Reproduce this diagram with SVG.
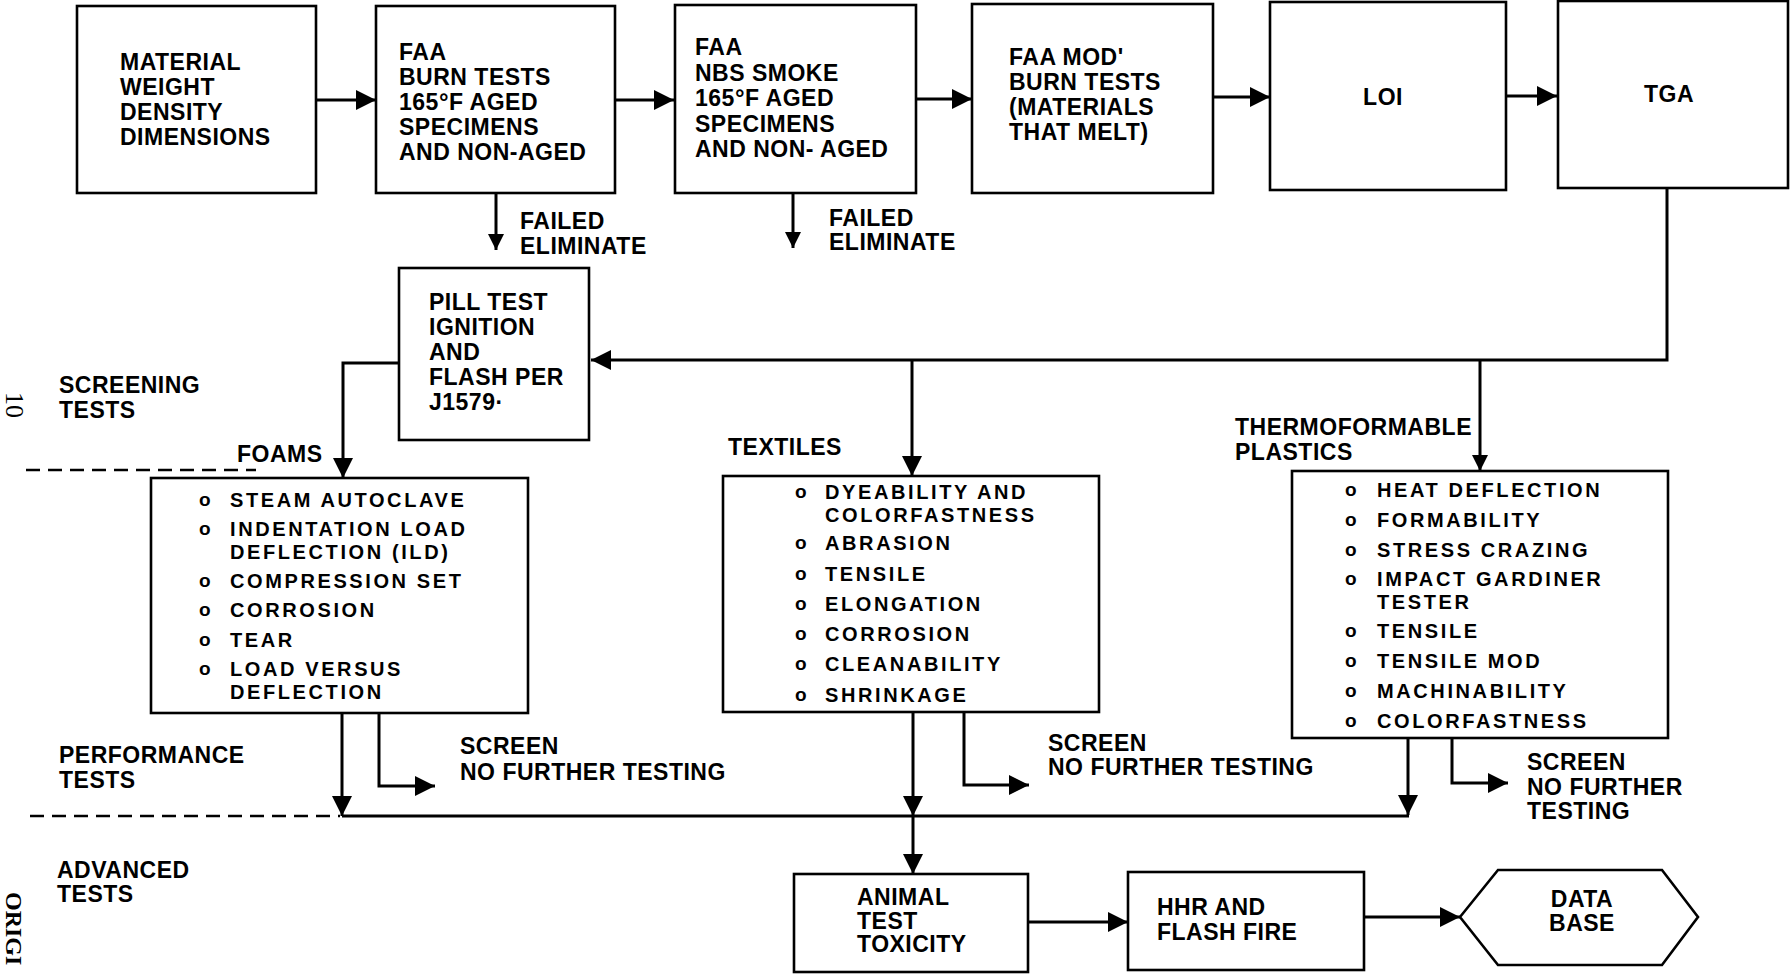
<svg xmlns="http://www.w3.org/2000/svg" width="1790" height="976" viewBox="0 0 1790 976">
<style>
.bx{fill:#fff;stroke:#000;stroke-width:2.6}
.ln{fill:none;stroke:#000;stroke-width:3}
.dash{fill:none;stroke:#000;stroke-width:2.5;stroke-dasharray:14 8}
.t{font-family:"Liberation Sans",Arial,sans-serif;font-weight:bold;font-size:23px;letter-spacing:0.5px;fill:#000}
.b{font-family:"Liberation Sans",Arial,sans-serif;font-weight:bold;font-size:20px;letter-spacing:2.6px;fill:#000}
.o{font-family:"Liberation Sans",Arial,sans-serif;font-weight:bold;font-size:19px;fill:#000}
.deg{font-size:24px}
.pg{font-family:"Liberation Serif","Times New Roman",serif;fill:#000}
</style>
<defs>
<marker id="ah" viewBox="0 0 10 10" refX="10" refY="5" markerUnits="userSpaceOnUse" markerWidth="22" markerHeight="20" orient="auto"><path d="M0,0 L10,5 L0,10 z" fill="#000"/></marker>
<marker id="as" viewBox="0 0 10 10" refX="10" refY="5" markerUnits="userSpaceOnUse" markerWidth="18" markerHeight="16" orient="auto"><path d="M0,0 L10,5 L0,10 z" fill="#000"/></marker>
</defs>
<rect width="1790" height="976" fill="#fff"/>

<g id="connectors">
<path class="ln" d="M316,100 H376" marker-end="url(#ah)"/>
<path class="ln" d="M615,100 H674" marker-end="url(#ah)"/>
<path class="ln" d="M916,99 H972" marker-end="url(#ah)"/>
<path class="ln" d="M1213,97 H1270" marker-end="url(#ah)"/>
<path class="ln" d="M1506,96 H1557" marker-end="url(#ah)"/>
<path class="ln" d="M496,193 V250" marker-end="url(#as)"/>
<path class="ln" d="M793,193 V248" marker-end="url(#as)"/>
<path class="ln" d="M1667,188 V360 H591" marker-end="url(#ah)"/>
<path class="ln" d="M912,360 V476" marker-end="url(#ah)"/>
<path class="ln" d="M1480,360 V471" marker-end="url(#as)"/>
<path class="ln" d="M399,363 H343 V478" marker-end="url(#ah)"/>
<path class="ln" d="M342,713 V816" marker-end="url(#ah)"/>
<path class="ln" d="M379,713 V786 H435" marker-end="url(#ah)"/>
<path class="ln" d="M913,712 V816" marker-end="url(#ah)"/>
<path class="ln" d="M964,712 V785 H1029" marker-end="url(#ah)"/>
<path class="ln" d="M1408,738 V815" marker-end="url(#ah)"/>
<path class="ln" d="M1452,738 V783 H1508" marker-end="url(#ah)"/>
<path class="ln" d="M342,816 H1409"/>
<path class="ln" d="M913,816 V874" marker-end="url(#ah)"/>
<path class="ln" d="M1028,922 H1128" marker-end="url(#ah)"/>
<path class="ln" d="M1364,917 H1460" marker-end="url(#ah)"/>
<path class="dash" d="M26,470 H256"/>
<path class="dash" d="M30,816 H340"/>
</g>

<g id="material">
<rect class="bx" x="77" y="6" width="239" height="187"/>
<text class="t" x="120" y="70">MATERIAL<tspan x="120" dy="25">WEIGHT</tspan><tspan x="120" dy="25">DENSITY</tspan><tspan x="120" dy="25">DIMENSIONS</tspan></text>
</g>

<g id="faa-burn">
<rect class="bx" x="376" y="6" width="239" height="187"/>
<text class="t" x="399" y="60">FAA<tspan x="399" dy="25">BURN TESTS</tspan><tspan x="399" dy="25">165<tspan class="deg">°</tspan>F AGED</tspan><tspan x="399" dy="25">SPECIMENS</tspan><tspan x="399" dy="25">AND NON-AGED</tspan></text>
</g>

<g id="faa-smoke">
<rect class="bx" x="675" y="5" width="241" height="188"/>
<text class="t" x="695" y="55">FAA<tspan x="695" dy="26">NBS SMOKE</tspan><tspan x="695" dy="25">165<tspan class="deg">°</tspan>F AGED</tspan><tspan x="695" dy="26">SPECIMENS</tspan><tspan x="695" dy="25">AND NON- AGED</tspan></text>
</g>

<g id="faa-mod">
<rect class="bx" x="972" y="4" width="241" height="189"/>
<text class="t" x="1009" y="65">FAA MOD'<tspan x="1009" dy="25">BURN TESTS</tspan><tspan x="1009" dy="25">(MATERIALS</tspan><tspan x="1009" dy="25">THAT MELT)</tspan></text>
</g>

<g id="loi">
<rect class="bx" x="1270" y="2" width="236" height="188"/>
<text class="t" x="1383" y="105" text-anchor="middle">LOI</text>
</g>

<g id="tga">
<rect class="bx" x="1558" y="1" width="230" height="187"/>
<text class="t" x="1669" y="102" text-anchor="middle">TGA</text>
</g>

<g id="failed-1">
<text class="t" x="520" y="229">FAILED<tspan x="520" dy="25">ELIMINATE</tspan></text>
</g>
<g id="failed-2">
<text class="t" x="829" y="226">FAILED<tspan x="829" dy="24">ELIMINATE</tspan></text>
</g>

<g id="pill">
<rect class="bx" x="399" y="268" width="190" height="172"/>
<text class="t" x="429" y="310">PILL TEST<tspan x="429" dy="25">IGNITION</tspan><tspan x="429" dy="25">AND</tspan><tspan x="429" dy="25">FLASH PER</tspan><tspan x="429" dy="25">J1579·</tspan></text>
</g>

<g id="stage-labels">
<text class="t" x="59" y="393">SCREENING<tspan x="59" dy="25">TESTS</tspan></text>
<text class="t" x="59" y="763">PERFORMANCE<tspan x="59" dy="25">TESTS</tspan></text>
<text class="t" x="57" y="878">ADVANCED<tspan x="57" dy="24">TESTS</tspan></text>
<text class="t" x="237" y="462">FOAMS</text>
<text class="t" x="728" y="455">TEXTILES</text>
<text class="t" x="1235" y="435">THERMOFORMABLE<tspan x="1235" dy="25">PLASTICS</tspan></text>
</g>

<g id="foams">
<rect class="bx" x="151" y="478" width="377" height="235"/>
<text class="o" x="199" y="506">o</text><text class="b" x="230" y="507">STEAM AUTOCLAVE</text>
<text class="o" x="199" y="535">o</text><text class="b" x="230" y="536">INDENTATION LOAD<tspan x="230" dy="22.5">DEFLECTION (ILD)</tspan></text>
<text class="o" x="199" y="587">o</text><text class="b" x="230" y="588">COMPRESSION SET</text>
<text class="o" x="199" y="616">o</text><text class="b" x="230" y="617">CORROSION</text>
<text class="o" x="199" y="646">o</text><text class="b" x="230" y="647">TEAR</text>
<text class="o" x="199" y="675">o</text><text class="b" x="230" y="676">LOAD VERSUS<tspan x="230" dy="22.5">DEFLECTION</tspan></text>
</g>

<g id="textiles">
<rect class="bx" x="723" y="476" width="376" height="236"/>
<text class="o" x="795" y="498">o</text><text class="b" x="825" y="499">DYEABILITY AND<tspan x="825" dy="22.5">COLORFASTNESS</tspan></text>
<text class="o" x="795" y="549">o</text><text class="b" x="825" y="550">ABRASION</text>
<text class="o" x="795" y="580">o</text><text class="b" x="825" y="581">TENSILE</text>
<text class="o" x="795" y="610">o</text><text class="b" x="825" y="611">ELONGATION</text>
<text class="o" x="795" y="640">o</text><text class="b" x="825" y="641">CORROSION</text>
<text class="o" x="795" y="670">o</text><text class="b" x="825" y="671">CLEANABILITY</text>
<text class="o" x="795" y="701">o</text><text class="b" x="825" y="702">SHRINKAGE</text>
</g>

<g id="plastics">
<rect class="bx" x="1292" y="471" width="376" height="267"/>
<text class="o" x="1345" y="496">o</text><text class="b" x="1377" y="497">HEAT DEFLECTION</text>
<text class="o" x="1345" y="526">o</text><text class="b" x="1377" y="527">FORMABILITY</text>
<text class="o" x="1345" y="556">o</text><text class="b" x="1377" y="557">STRESS CRAZING</text>
<text class="o" x="1345" y="585">o</text><text class="b" x="1377" y="586">IMPACT GARDINER<tspan x="1377" dy="22.5">TESTER</tspan></text>
<text class="o" x="1345" y="637">o</text><text class="b" x="1377" y="638">TENSILE</text>
<text class="o" x="1345" y="667">o</text><text class="b" x="1377" y="668">TENSILE MOD</text>
<text class="o" x="1345" y="697">o</text><text class="b" x="1377" y="698">MACHINABILITY</text>
<text class="o" x="1345" y="727">o</text><text class="b" x="1377" y="728">COLORFASTNESS</text>
</g>

<g id="screen-1">
<text class="t" x="460" y="754">SCREEN<tspan x="460" dy="26">NO FURTHER TESTING</tspan></text>
</g>
<g id="screen-2">
<text class="t" x="1048" y="751">SCREEN<tspan x="1048" dy="24">NO FURTHER TESTING</tspan></text>
</g>
<g id="screen-3">
<text class="t" x="1527" y="770">SCREEN<tspan x="1527" dy="25">NO FURTHER</tspan><tspan x="1527" dy="24">TESTING</tspan></text>
</g>

<g id="animal">
<rect class="bx" x="794" y="874" width="234" height="98"/>
<text class="t" x="857" y="905">ANIMAL<tspan x="857" dy="24">TEST</tspan><tspan x="857" dy="23">TOXICITY</tspan></text>
</g>

<g id="hhr">
<rect class="bx" x="1128" y="872" width="236" height="98"/>
<text class="t" x="1157" y="915">HHR AND<tspan x="1157" dy="25">FLASH FIRE</tspan></text>
</g>

<g id="database">
<polygon class="bx" points="1460,917 1498,870 1662,870 1698,917 1662,965 1498,965"/>
<text class="t" x="1582" y="907" text-anchor="middle">DATA<tspan x="1582" dy="24">BASE</tspan></text>
</g>

<g id="margin">
<text class="pg" font-size="26" transform="translate(6,392) rotate(90)">10</text>
<text class="pg" font-size="24" font-weight="bold" transform="translate(6,892) rotate(90)">ORIGI</text>
</g>
</svg>
